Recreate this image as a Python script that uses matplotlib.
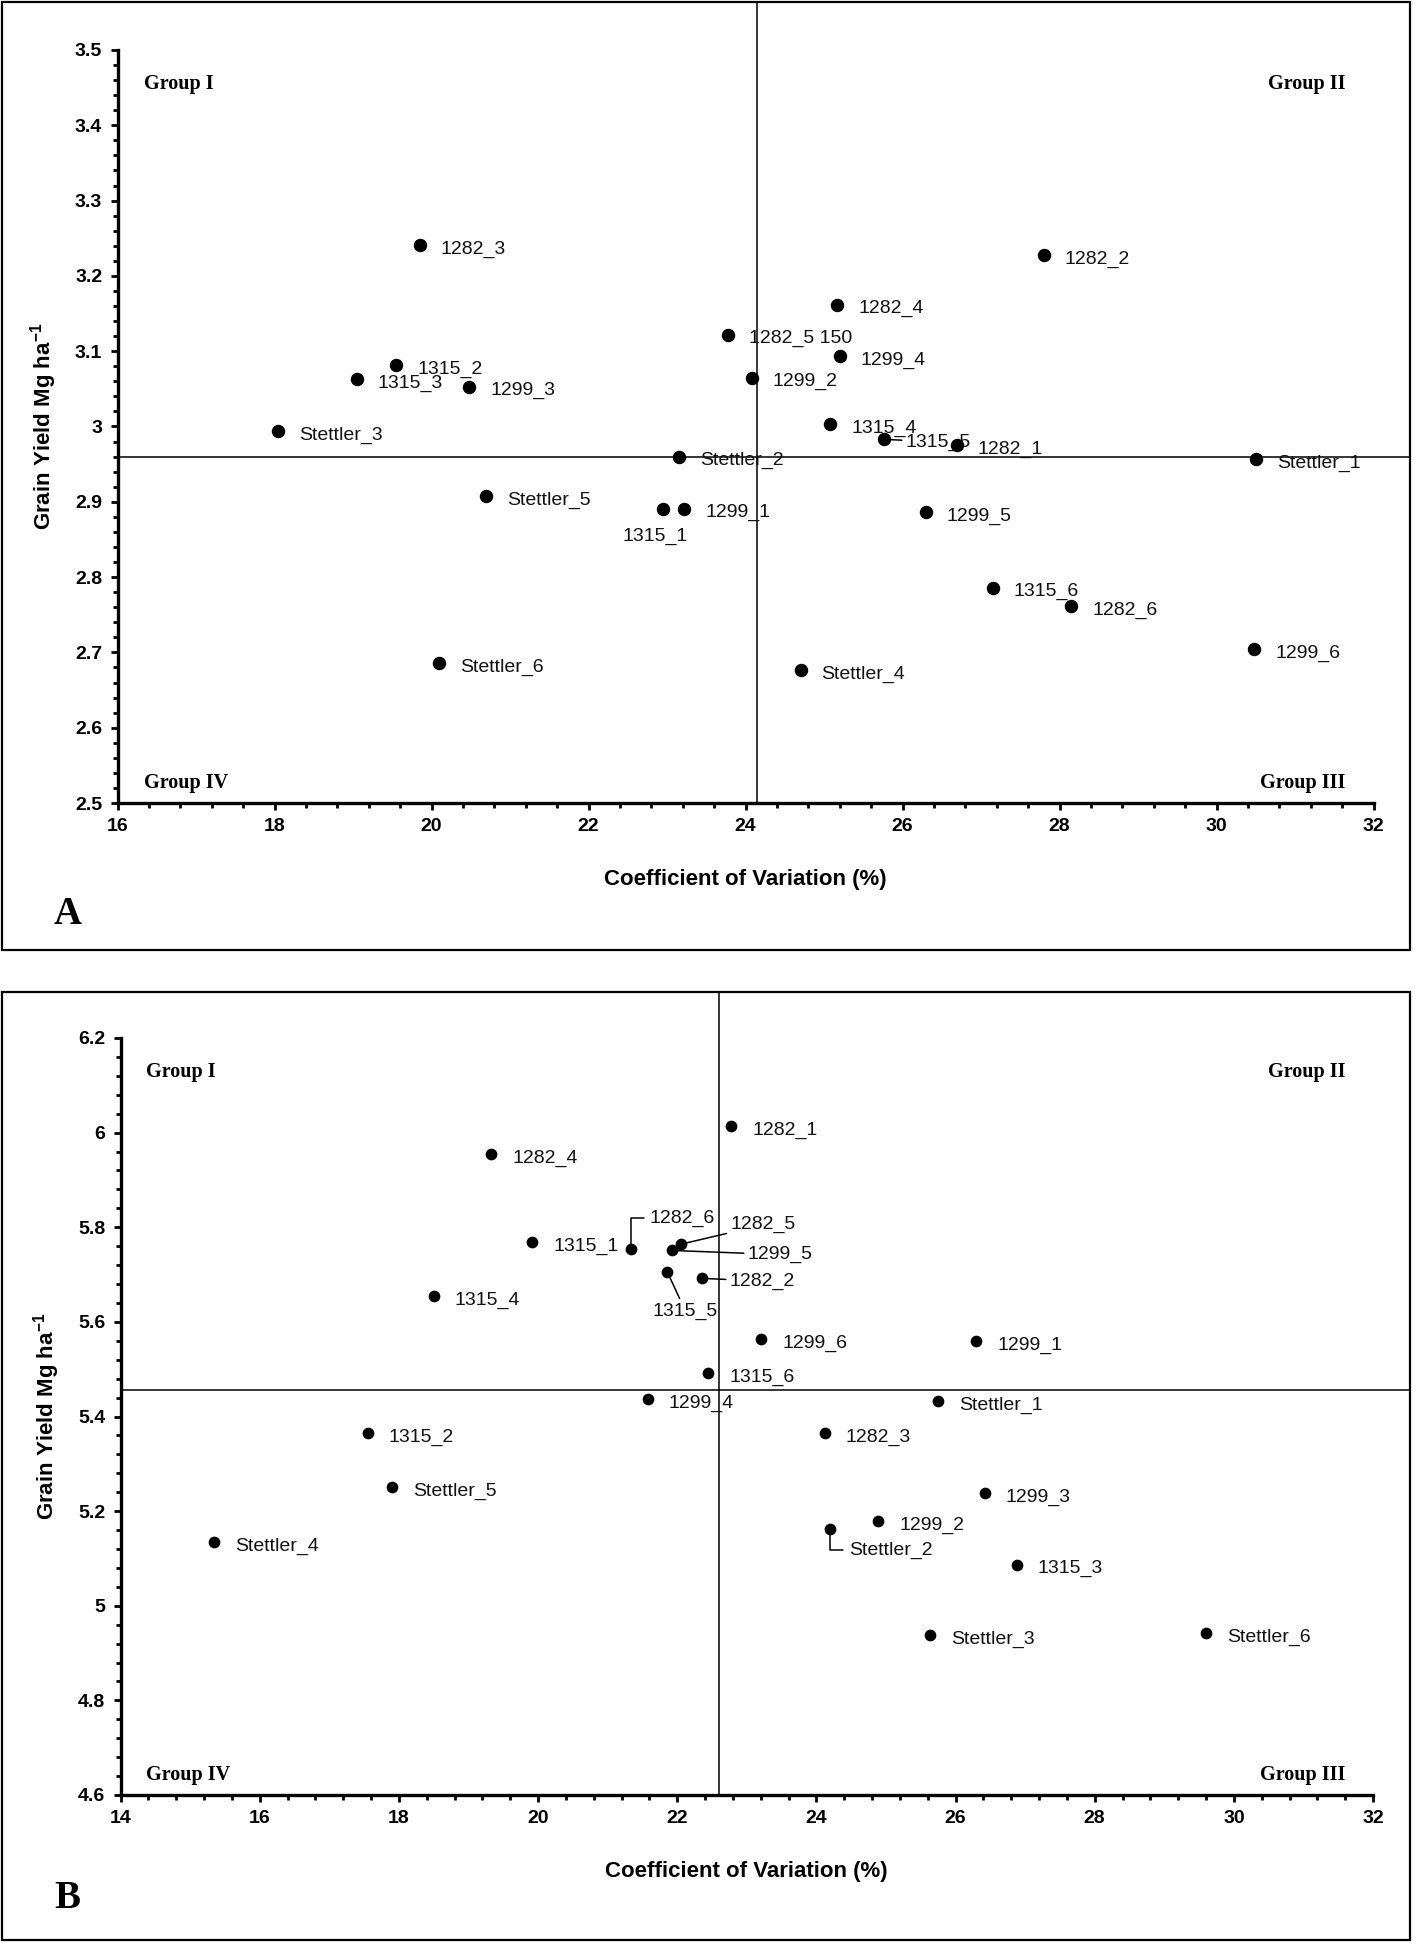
import matplotlib
matplotlib.use("Agg")
import matplotlib.pyplot as plt
from matplotlib.ticker import MultipleLocator, FuncFormatter
from matplotlib.patches import Rectangle

# ---------------- data ----------------
A_labels = ['1282_3', '1282_2', '1282_4', '1282_5 150', '1315_2', '1299_4', '1315_3', '1299_2',
            '1299_3', 'Stettler_3', '1315_4', '1315_5', '1282_1', 'Stettler_2', 'Stettler_1',
            'Stettler_5', '1315_1', '1299_1', '1299_5', '1315_6', '1282_6', '1299_6',
            'Stettler_6', 'Stettler_4']
A_cv = [19.85, 27.8, 25.17, 23.78, 19.55, 25.2, 19.05, 24.08, 20.48, 18.05, 25.08, 25.76,
        26.69, 23.15, 30.5, 20.7, 22.95, 23.22, 26.3, 27.15, 28.15, 30.48, 20.1, 24.7]
A_gy = [3.241, 3.228, 3.162, 3.122, 3.082, 3.093, 3.063, 3.065, 3.053, 2.994, 3.003, 2.983,
        2.975, 2.96, 2.957, 2.908, 2.891, 2.891, 2.886, 2.786, 2.761, 2.704, 2.686, 2.676]
A_hline = 2.96
A_vline = 24.15

B_labels = ['1282_1', '1282_4', '1315_1', '1282_6', '1282_5', '1299_5', '1315_5', '1282_2',
            '1315_4', '1299_6', '1299_1', '1315_6', '1299_4', 'Stettler_1', '1315_2', '1282_3',
            'Stettler_5', '1299_3', '1299_2', 'Stettler_2', 'Stettler_4', '1315_3',
            'Stettler_3', 'Stettler_6']
B_cv = [22.78, 19.33, 19.92, 21.33, 22.05, 21.92, 21.86, 22.36, 18.5, 23.21, 26.3, 22.45,
        21.58, 25.75, 17.55, 24.12, 17.9, 26.42, 24.89, 24.19, 15.35, 26.88, 25.64, 29.6]
B_gy = [6.013, 5.954, 5.768, 5.754, 5.764, 5.751, 5.705, 5.692, 5.655, 5.563, 5.56, 5.491,
        5.437, 5.432, 5.365, 5.365, 5.25, 5.238, 5.179, 5.162, 5.135, 5.087, 4.938, 4.942]
B_hline = 5.456
B_vline = 22.6

A_xlim, A_ylim = (16, 32), (2.5, 3.5)
B_xlim, B_ylim = (14, 32), (4.6, 6.2)
A_yticks_major, A_yticks_minor = 0.1, 0.02
B_yticks_major, B_yticks_minor = 0.2, 0.04

xlabel = 'Coefficient of Variation (%)'
ylabel = 'Grain Yield Mg ha$^{-1}$'
groups = ['Group I', 'Group II', 'Group III', 'Group IV']

# label placement (offset points, alignment, leader style)
STD = ((15, -3), 'left', None)
A_special = {
    '1315_1': ((-6, -20), 'center', None),
    '1315_5': ((16, -2), 'left', 'straight'),
}
B_special = {
    '1282_6': ((14, 22), 'left', 'angle'),
    '1282_5': ((36, 14), 'left', 'straight'),
    '1299_5': ((55, -3), 'left', 'straight'),
    '1282_2': ((20, -2), 'left', 'straight'),
    '1315_5': ((13, -28), 'center', 'straight'),
    'Stettler_2': ((14, -15), 'left', 'angle'),
}

plt.rcParams['mathtext.default'] = 'regular'
SANS = ['Liberation Sans', 'DejaVu Sans']
NARROW = ['Liberation Sans Narrow', 'Liberation Sans', 'DejaVu Sans']
SERIF = ['Liberation Serif', 'DejaVu Serif']

W, H = 1417, 1943
fig = plt.figure(figsize=(W / 100, H / 100), dpi=100)

# panel frames
for (x0, y0, x1, y1) in [(2, 2, 1410, 950), (2, 992, 1410, 1940)]:
    fig.add_artist(Rectangle((x0 / W, 1 - y1 / H), (x1 - x0) / W, (y1 - y0) / H,
                             transform=fig.transFigure, fill=False, lw=1.6, ec='black'))


def fmt(v, p):
    if abs(v - round(v)) < 1e-9:
        return '%d' % round(v)
    return '%.1f' % v


def panel(rect_px, cv, gy, labels, xlim, ylim, ymaj, ymin, hline, vline, special,
          msize, frame_top, frame_right, letter, letter_xy):
    x0, ytop, x1, ybot = rect_px
    ax = fig.add_axes([x0 / W, 1 - ybot / H, (x1 - x0) / W, (ybot - ytop) / H])
    ax.set_xlim(*xlim)
    ax.set_ylim(*ylim)
    for s in ['top', 'right']:
        ax.spines[s].set_visible(False)
    for s in ['left', 'bottom']:
        ax.spines[s].set_linewidth(2.4)
    ax.xaxis.set_major_locator(MultipleLocator(2))
    ax.xaxis.set_minor_locator(MultipleLocator(0.4))
    ax.yaxis.set_major_locator(MultipleLocator(ymaj))
    ax.yaxis.set_minor_locator(MultipleLocator(ymin))
    ax.tick_params(which='major', direction='out', length=5, width=2, pad=6)
    ax.tick_params(which='minor', direction='out', length=3.5, width=2)
    ax.yaxis.set_major_formatter(FuncFormatter(fmt))
    for lab in ax.get_xticklabels() + ax.get_yticklabels():
        lab.set_fontfamily(NARROW)
        lab.set_fontweight('bold')
        lab.set_fontsize(14)

    hpx = ybot - ytop
    wpx = x1 - x0
    ax.axhline(hline, xmin=0, xmax=(frame_right - x0) / wpx, color='black', lw=1.1,
               clip_on=False, zorder=1)
    ax.axvline(vline, ymin=0, ymax=(ybot - frame_top) / hpx, color='black', lw=1.1,
               clip_on=False, zorder=1)

    ax.scatter(cv, gy, s=msize, color='black', zorder=3, clip_on=False)
    for x, y, t in zip(cv, gy, labels):
        off, ha, lead = special.get(t, STD)
        kw = {}
        if lead == 'straight':
            kw['arrowprops'] = dict(arrowstyle='-', lw=1.1, color='black', shrinkA=1, shrinkB=3)
        elif lead == 'angle':
            kw['arrowprops'] = dict(arrowstyle='-', lw=1.1, color='black', shrinkA=2, shrinkB=3,
                                    connectionstyle='angle,angleA=0,angleB=90,rad=0')
        ax.annotate(t, (x, y), xytext=off, textcoords='offset points', ha=ha, va='center',
                    fontsize=14, family=SANS, color='#111111', zorder=4, **kw)

    ax.set_xlabel(xlabel, fontsize=16, family=NARROW, fontweight='bold')
    ax.set_ylabel(ylabel, fontsize=16, family=NARROW, fontweight='bold')
    ax.xaxis.set_label_coords(0.5, -66 / hpx)
    ax.yaxis.set_label_coords(-58 / wpx, 0.5)

    gkw = dict(fontsize=14.5, family=SERIF, fontweight='bold', transform=ax.transAxes,
               va='center')
    gx_l = 26 / wpx
    gx_r = 1 - 28 / wpx
    gy_t = 1 - 34 / hpx
    gy_b = 20 / hpx
    ax.text(gx_l, gy_t, groups[0], ha='left', **gkw)
    ax.text(gx_r, gy_t, groups[1], ha='right', **gkw)
    ax.text(gx_r, gy_b, groups[2], ha='right', **gkw)
    ax.text(gx_l, gy_b, groups[3], ha='left', **gkw)

    fig.text(letter_xy[0] / W, 1 - letter_xy[1] / H, letter, fontsize=28, family=SERIF,
             fontweight='bold', ha='left', va='center')
    return ax


panel((117.5, 50, 1373.6, 803), A_cv, A_gy, A_labels, A_xlim, A_ylim, A_yticks_major,
      A_yticks_minor, A_hline, A_vline, A_special, 75, 2, 1410, 'A', (54, 914))
panel((120.5, 1038, 1373, 1795), B_cv, B_gy, B_labels, B_xlim, B_ylim, B_yticks_major,
      B_yticks_minor, B_hline, B_vline, B_special, 55, 992, 1410, 'B', (54, 1898))

fig.savefig('out.png', dpi=100, facecolor='white')
